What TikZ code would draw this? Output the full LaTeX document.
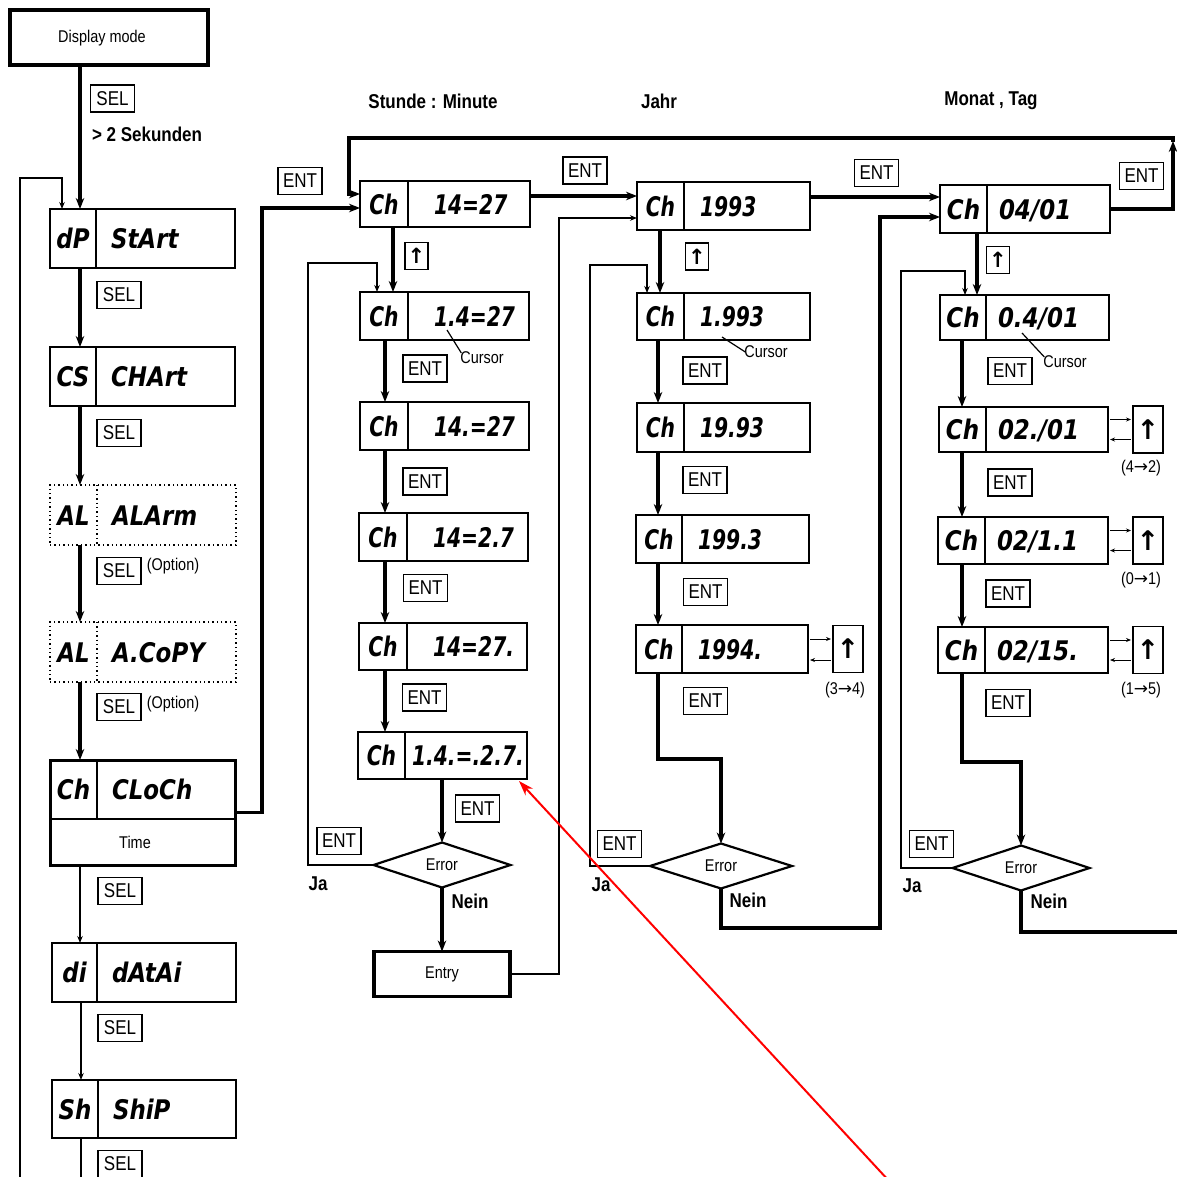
\documentclass[tikz,border=0pt]{standalone}
\usepackage{fontspec}
\setmainfont{Liberation Sans}[FakeStretch=0.85]
\newfontfamily\segfont{DejaVu Sans}[FakeStretch=0.75]
\newfontfamily\segwfont{DejaVu Sans}[FakeStretch=0.85]
\newfontfamily\arrfont{DejaVu Sans}
\usetikzlibrary{arrows.meta,shapes.geometric}
\def\segcur{\segfont}
\def\segoff{15}
\tikzset{
  every node/.style={inner sep=0pt,outer sep=0pt},
  dbox/.style={draw,line width=1.4pt,rectangle},
  dotbox/.style={dash pattern=on 1.4pt off 3pt},
  segtext/.style={font={\segcur\bfseries\itshape\fontsize{27}{27}\selectfont},text height=20pt,text depth=0pt},
  keyb/.style={draw,line width=1.1pt,minimum width=44pt,minimum height=27pt,font={\fontsize{20}{20}\selectfont}},
  upkey/.style={draw,line width=1.2pt,minimum width=23pt,minimum height=27pt,font={\arrfont\bfseries\fontsize{21}{21}\selectfont}},
  upkeyT/.style={draw,line width=1.2pt,minimum width=30pt,minimum height=47pt,font={\arrfont\bfseries\fontsize{27}{27}\selectfont}},
  lbl/.style={font={\fontsize{17}{17}\selectfont}},
  blbl/.style={font={\bfseries\fontsize{20}{20}\selectfont}},
  thk/.style={line width=3.2pt,line join=miter,-{Stealth[length=11pt,width=8.5pt]}},
  thkn/.style={line width=3.2pt,line join=miter},
  thn/.style={line width=1.2pt,-{Stealth[length=7pt,width=5.5pt]}},
  thinline/.style={line width=1.2pt},
  sml/.style={line width=1pt,-{Stealth[length=5pt,width=4pt]}},
  diam/.style={diamond,draw,line width=2.2pt,aspect=3,font={\fontsize{17}{17}\selectfont}},
  bigbox/.style={draw,line width=3.8pt}
}
% #1 name, #2 x1, #3 y1, #4 x2, #5 y2, #6 divider x, #7 left text, #8 right text, #9 extra style
\newcommand\dispbox[9]{%
  \node[dbox,#9,anchor=north west,minimum width={#4-#2},minimum height={#5-#3}] (#1) at (#2,#3) {};
  \draw[line width=1.2pt,#9] (#6,#3) -- (#6,#5);
  \node[segtext] (#1l) at ({(#2+#6)/2},{(#3+#5)/2}) {#7};
  \node[segtext,anchor=west] (#1r) at ({#6+\segoff},{(#3+#5)/2}) {#8};}
\begin{document}
\begin{tikzpicture}[x=1pt,y=-1pt]
\fill[white] (0,0) rectangle (1176,1177);
\useasboundingbox (0,0) rectangle (1176,1177);

% headings
\node[blbl] (h1) at (433,101) {Stunde : Minute};
\node[blbl] (h2) at (659,101) {Jahr};
\node[blbl] (h3) at (991,101) {Monat , Tag};

% display mode
\node[bigbox,anchor=north west,minimum width=198,minimum height=55] (dm) at (10,10) {};
\node[lbl] (dmt) at (102,38) {Display mode};
\node[keyb] (sel0) at (112.5,98.5) {SEL};
\node[blbl,anchor=west] (sek) at (92,134) {> 2 Sekunden};

% left column
\def\segcur{\segwfont}
\def\segoff{15}
\dispbox{dp}{50}{209}{235}{268}{96}{dP}{StArt}{}
\dispbox{cs}{50}{347}{235}{406}{96}{CS}{CHArt}{}
\dispbox{al}{50}{485}{236}{545}{97}{AL}{ALArm}{dotbox}
\dispbox{ac}{50}{622}{236}{682}{97}{AL}{A.CoPY}{dotbox}
\node[draw,line width=3pt,anchor=north west,minimum width=185,minimum height=105] (chk) at (50,760) {};
\draw[line width=1.3pt] (50,819) -- (235,819);
\draw[line width=1.2pt] (97,760) -- (97,819);
\node[segtext] (chkl) at (73.5,789.5) {Ch};
\node[segtext,anchor=west] (chkr) at (112,789.5) {CLoCh};
\node[lbl] (time) at (135,842) {Time};
\dispbox{di}{52}{943}{236}{1002}{97}{di}{dAtAi}{}
\dispbox{sh}{52}{1080}{236}{1138}{98}{Sh}{ShiP}{}

\node[keyb] (sel1) at (119,295) {SEL};
\node[keyb] (sel2) at (119,433) {SEL};
\node[keyb] (sel3) at (119,571) {SEL};
\node[lbl] (opt1) at (173,566) {(Option)};
\node[keyb] (sel4) at (119,707) {SEL};
\node[lbl] (opt2) at (173,704) {(Option)};
\node[keyb] (sel5) at (120,891) {SEL};
\node[keyb] (sel6) at (120,1028) {SEL};
\node[keyb] (sel7) at (120,1164) {SEL};

\coordinate (lx) at (80,0);
\coordinate (lx2) at (81,0);
\coordinate (lx0) at (62,0);
\coordinate (shbot) at (81,1182);
\coordinate (lloop) at (20,1182);
\draw[thk] (dm.south -| lx) -- (dp.north -| lx);
\draw[thk] (dp.south -| lx) -- (cs.north -| lx);
\draw[thk] (cs.south -| lx) -- (al.north -| lx);
\draw[thk] (al.south -| lx) -- (ac.north -| lx);
\draw[thk] (ac.south -| lx) -- (chk.north -| lx);
\draw[thn] (chk.south -| lx) -- (di.north -| lx);
\draw[thn] (di.south -| lx2) -- (sh.north -| lx2);
\draw[thinline] (sh.south -| lx2) -- (shbot);
\draw[thn] (lloop) -- (20,178) -| (dp.north -| lx0);

% column 1 : Stunde : Minute
\def\segcur{\segfont}
\def\segoff{26}
\dispbox{ca1}{360}{181}{530}{227}{408}{Ch}{14=27}{}
\dispbox{ca2}{360}{292}{529}{340}{408}{Ch}{1.4=27}{}
\dispbox{ca3}{360}{402}{529}{450}{408}{Ch}{14.=27}{}
\dispbox{ca4}{359}{513}{528}{561}{407}{Ch}{14=2.7}{}
\dispbox{ca5}{359}{623}{527}{670}{407}{Ch}{14=27.}{}
\def\segoff{7}
\dispbox{ca6}{358}{732}{527}{779}{405}{Ch}{1.4.=.2.7.}{}

\node[upkey] (ua1) at (416.5,256) {↑};
\node[keyb] (ea2) at (425,368.5) {ENT};
\node[keyb] (ea3) at (425,481.5) {ENT};
\node[keyb] (ea4) at (425.5,588) {ENT};
\node[keyb] (ea5) at (424.5,697.5) {ENT};
\node[keyb] (ea6) at (477.5,808.5) {ENT};
\node[keyb] (eaj) at (339,841) {ENT};
\node[lbl] (cur1) at (482,358) {Cursor};
\node[diam,minimum width=137,minimum height=45] (d1) at (442,865) {Error};
\node[blbl] (ja1) at (318,884) {Ja};
\node[blbl] (ne1) at (470,901) {Nein};
\node[bigbox,minimum width=136,minimum height=45,font={\fontsize{17}{17}\selectfont}] (entry) at (442,974) {Entry};

\coordinate (xa1) at (393,0);
\coordinate (xb1) at (385,0);
\coordinate (xl1) at (377,0);
\coordinate (cp1) at (447,330);
\draw[thk] (ca1.south -| xa1) -- (ca2.north -| xa1);
\draw[thk] (ca2.south -| xb1) -- (ca3.north -| xb1);
\draw[thk] (ca3.south -| xb1) -- (ca4.north -| xb1);
\draw[thk] (ca4.south -| xb1) -- (ca5.north -| xb1);
\draw[thk] (ca5.south -| xb1) -- (ca6.north -| xb1);
\draw[thk] (ca6.south -| d1.north) -- (d1.north);
\draw[thk] (d1.south) -- (entry.north);
\draw[thn] (d1.west) -| (308,263) -| (ca2.north -| xl1);
\draw[thinline] (cp1) -- ([xshift=1pt,yshift=-1pt]cur1.north west);

% Ch -> column 1
\node[keyb] (e0) at (300,181) {ENT};
\draw[thk] (chk.east) -| (262,208) -- ([yshift=-4pt]ca1.west);

% column 2 : Jahr
\def\segoff{16}
\dispbox{cb1}{637}{182}{810}{230}{684}{Ch}{1993}{}
\dispbox{cb2}{637}{293}{810}{340}{684}{Ch}{1.993}{}
\dispbox{cb3}{637}{403}{810}{452}{684}{Ch}{19.93}{}
\dispbox{cb4}{636}{515}{809}{563}{682}{Ch}{199.3}{}
\dispbox{cb5}{636}{625}{808}{673}{682}{Ch}{1994.}{}

\node[upkey] (ub1) at (697,256.5) {↑};
\node[keyb] (eb2) at (705,370.5) {ENT};
\node[keyb] (eb3) at (705,480) {ENT};
\node[keyb] (eb4) at (705.5,592) {ENT};
\node[keyb] (eb5) at (705.5,701) {ENT};
\node[keyb] (ebj) at (619.5,844) {ENT};
\node[upkeyT] (ub5) at (848,649) {↑};
\node[lbl] (r34) at (845,690) {(3{\arrfont→}4)};
\node[lbl] (cur2) at (766,352) {Cursor};
\node[diam,minimum width=142,minimum height=45] (d2) at (721,866) {Error};
\node[blbl] (ja2) at (601,885) {Ja};
\node[blbl] (ne2) at (748,900) {Nein};

\coordinate (xa2) at (660,0);
\coordinate (xb2) at (658,0);
\coordinate (xl2) at (647,0);
\coordinate (cp2) at (722,337);
\draw[thk] (cb1.south -| xa2) -- (cb2.north -| xa2);
\draw[thk] (cb2.south -| xb2) -- (cb3.north -| xb2);
\draw[thk] (cb3.south -| xb2) -- (cb4.north -| xb2);
\draw[thk] (cb4.south -| xb2) -- (cb5.north -| xb2);
\draw[thk] (cb5.south -| xb2) -- (658,759) -| (d2.north);
\draw[thn] (d2.west) -| (590,265) -| (cb2.north -| xl2);
\draw[sml] ([xshift=2pt,yshift=10pt]cb5.east) -- ([xshift=-2pt,yshift=10pt]cb5.east -| ub5.west);
\draw[sml] ([xshift=-2pt,yshift=-11pt]cb5.east -| ub5.west) -- ([xshift=2pt,yshift=-11pt]cb5.east);
\draw[thinline] (cp2) -- ([xshift=1pt]cur2.west);

% column 1 -> column 2
\node[keyb] (e1) at (585,170.5) {ENT};
\draw[thk] ([yshift=8pt]ca1.east) -- ([yshift=8pt]ca1.east -| cb1.west);
\draw[thn] (entry.east) -| (559,218) -- ([yshift=-12pt]cb1.west);

% column 3 : Monat , Tag
\def\segcur{\segwfont}
\def\segoff{12}
\dispbox{cc1}{940}{185}{1110}{233}{987}{Ch}{04/01}{}
\dispbox{cc2}{940}{295}{1109}{340}{986}{Ch}{0.4/01}{}
\dispbox{cc3}{939}{407}{1108}{452}{986}{Ch}{02./01}{}
\dispbox{cc4}{938}{517}{1108}{564}{985}{Ch}{02/1.1}{}
\dispbox{cc5}{938}{627}{1108}{673}{985}{Ch}{02/15.}{}
\def\segcur{\segfont}

\node[upkey] (uc1) at (998,260) {↑};
\node[keyb] (ec2) at (1010,371) {ENT};
\node[keyb] (ec3) at (1010,482.5) {ENT};
\node[keyb] (ec4) at (1008,593.5) {ENT};
\node[keyb] (ec5) at (1008,703) {ENT};
\node[keyb] (ecj) at (931.5,844) {ENT};
\node[upkeyT] (uc3) at (1148,429.5) {↑};
\node[upkeyT] (uc4) at (1148,540.5) {↑};
\node[upkeyT] (uc5) at (1148,650) {↑};
\node[lbl] (r42) at (1141,468) {(4{\arrfont→}2)};
\node[lbl] (r01) at (1141,580) {(0{\arrfont→}1)};
\node[lbl] (r15) at (1141,690) {(1{\arrfont→}5)};
\node[lbl] (cur3) at (1065,362) {Cursor};
\node[diam,minimum width=137,minimum height=45] (d3) at (1021,868) {Error};
\node[blbl] (ja3) at (912,886) {Ja};
\node[blbl] (ne3) at (1049,901) {Nein};

\coordinate (xa3) at (977,0);
\coordinate (xb3) at (962,0);
\coordinate (xl3) at (965,0);
\coordinate (cp3) at (1022,333);
\coordinate (nend) at (1182,932);
\draw[thk] (cc1.south -| xa3) -- (cc2.north -| xa3);
\draw[thk] (cc2.south -| xb3) -- (cc3.north -| xb3);
\draw[thk] (cc3.south -| xb3) -- (cc4.north -| xb3);
\draw[thk] (cc4.south -| xb3) -- (cc5.north -| xb3);
\draw[thk] (cc5.south -| xb3) -- (962,762) -| (d3.north);
\draw[thn] (d3.west) -| (901,271) -| (cc2.north -| xl3);
\draw[thkn] (d3.south) -- (1021,932) -- (nend);
\draw[thinline] (cp3) -- ([xshift=1pt,yshift=-1pt]cur3.north west);
\foreach \b/\u in {cc3/uc3,cc4/uc4,cc5/uc5}{
  \draw[sml] ([xshift=2pt,yshift=10pt]\b.east) -- ([xshift=-2pt,yshift=10pt]\b.east -| \u.west);
  \draw[sml] ([xshift=-2pt,yshift=-10pt]\b.east -| \u.west) -- ([xshift=2pt,yshift=-10pt]\b.east);
}

% column 2 -> column 3
\node[keyb] (e2) at (876.5,173) {ENT};
\draw[thk] ([yshift=9pt]cb1.east) -- ([yshift=9pt]cb1.east -| cc1.west);
\draw[thk] (d2.south) -- (721,928) -| (880,217) -- ([yshift=-8pt]cc1.west);

% top return loop
\node[keyb] (e3) at (1141.5,176) {ENT};
\draw[thk] (cc1.east) -| (1173,141);
\draw[thkn] (1173,142) -- (1173,138) -- (349,138) -- (349,180);
\draw[thk] (349,178) -- (349,194) -- ([yshift=10pt]ca1.west);

% red pointer
\coordinate (rtail) at (890,1182);
\draw[red,line width=2pt,-{Stealth[length=15pt,width=10pt]}] (rtail) -- ([xshift=-8pt,yshift=-2pt]ca6.south east);
\end{tikzpicture}
\end{document}
